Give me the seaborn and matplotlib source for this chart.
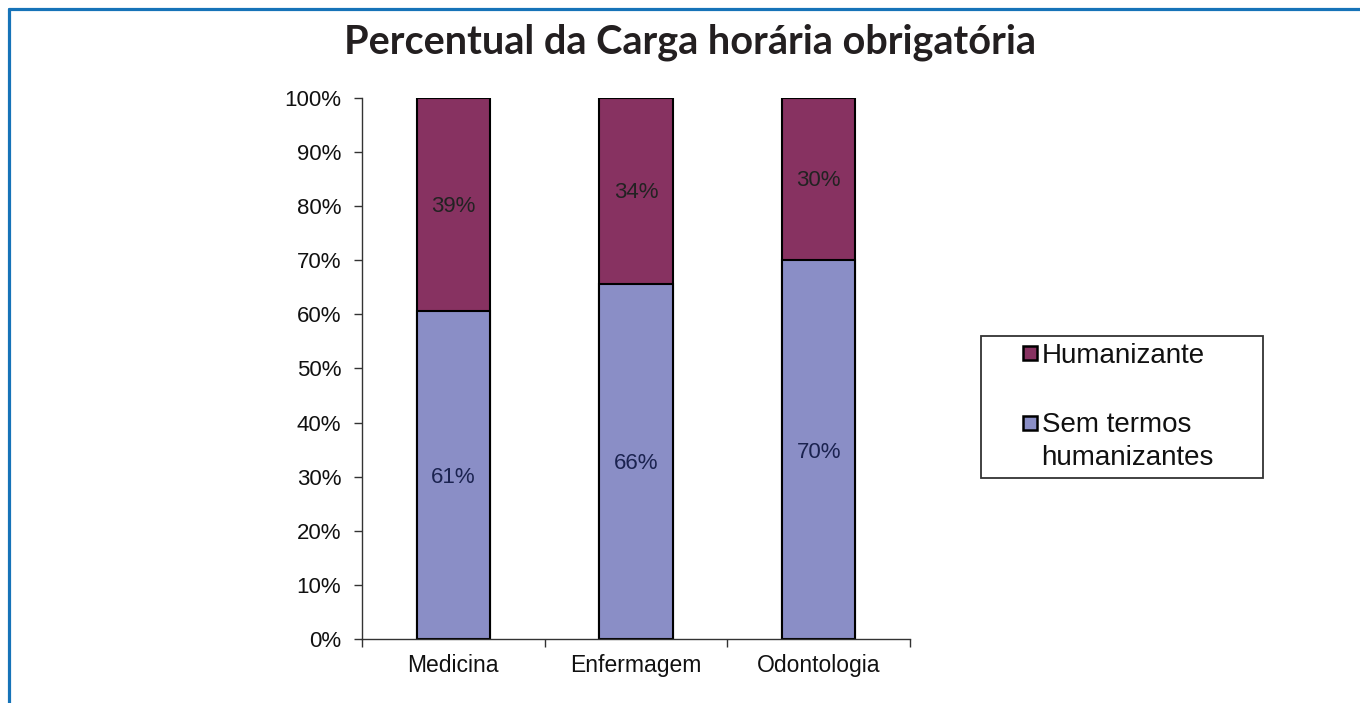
import matplotlib
matplotlib.use("Agg")
import matplotlib.pyplot as plt
from matplotlib.lines import Line2D
from matplotlib.patches import Patch, Rectangle
from matplotlib.legend_handler import HandlerPatch
import seaborn as sns
import pandas as pd

categories = ["Medicina", "Enfermagem", "Odontologia"]
sem_termos = [60.6, 65.7, 70.0]
humanizante = [39.4, 34.3, 30.0]
y_ticks = [0, 10, 20, 30, 40, 50, 60, 70, 80, 90, 100]

sns.set_theme(style="white")
plt.rcParams["font.family"] = ["Liberation Sans", "DejaVu Sans"]

df = pd.DataFrame({"curso": categories, "sem": sem_termos, "hum": humanizante})
df["total"] = df["sem"] + df["hum"]

c_hum = "#873261"
c_sem = "#8A8EC6"

fig = plt.figure(figsize=(13.6, 7.03), dpi=100)
ax = fig.add_axes([362/1360, 1-639/703, (910-362)/1360, (639-98)/703])

sns.barplot(data=df, x="curso", y="total", color=c_hum, width=0.4,
            edgecolor="black", linewidth=1.5, ax=ax, saturation=1)
sns.barplot(data=df, x="curso", y="sem", color=c_sem, width=0.4,
            edgecolor="black", linewidth=1.5, ax=ax, saturation=1)

for i, (s, h) in enumerate(zip(sem_termos, humanizante)):
    ax.text(i, s/2 - 0.5, f"{s:.0f}%", ha="center", va="center", fontsize=16, color="#1b2350")
    ax.text(i, s + h/2 - 0.3, f"{h:.0f}%", ha="center", va="center", fontsize=16, color="#222222")

ax.set_xlim(-0.5, 2.5)
ax.set_ylim(0, 100)
ax.set_yticks(y_ticks)
ax.set_yticklabels([f"{t}%" for t in y_ticks], fontsize=16, color="#111111")
ax.set_xticks(range(len(categories)))
ax.set_xticklabels(categories, fontsize=16.5, color="#111111")
ax.set_xticks([-0.5, 0.5, 1.5, 2.5], minor=True)
ax.tick_params(axis="x", which="major", length=0, pad=11)
ax.tick_params(axis="x", which="minor", length=6, width=1, color="#333333", direction="out", bottom=True)
ax.tick_params(axis="y", length=6, width=1, color="#333333", direction="out", left=True, pad=9)
ax.set_xlabel("")
ax.set_ylabel("")
for side in ["top", "right"]:
    ax.spines[side].set_visible(False)
for side in ["left", "bottom"]:
    ax.spines[side].set_color("#333333")
    ax.spines[side].set_linewidth(1)

SQ = 10.0


def square_patch(legend, orig_handle, xdescent, ydescent, width, height, fontsize):
    dy = 13.5 if "\n" in orig_handle.get_label() else 0.0
    return Rectangle((-xdescent + width - SQ, -ydescent + (height - SQ) / 2 + dy), SQ, SQ)


handles = [Patch(facecolor=c_hum, edgecolor="black", linewidth=1.8, label="Humanizante"),
           Patch(facecolor=c_sem, edgecolor="black", linewidth=1.8, label="Sem termos\nhumanizantes")]
leg = fig.legend(handles=handles, loc="upper left",
                 bbox_to_anchor=(981/1360, 1-477/703, (1263-981)/1360, (477-336)/703),
                 mode="expand", fontsize=20, frameon=True,
                 fancybox=False, edgecolor="black", handlelength=1.75, handleheight=0.5,
                 handletextpad=0.18, labelspacing=1.55, borderpad=0.25, borderaxespad=0,
                 handler_map={Patch: HandlerPatch(patch_func=square_patch)})
leg.get_frame().set_linewidth(1.3)
for t in leg.get_texts():
    t.set_color("#111111")
    t.set_linespacing(1.35)

fig.text(690/1360, 1-42/703, "Percentual da Carga horária obrigatória", ha="center", va="center",
         fontsize=28.5, fontweight="bold", family=["Lato", "DejaVu Sans"], color="#231f20")

# blue frame
fig.add_artist(Line2D([8.5/1360, 1.0], [1-8.5/703, 1-8.5/703], color="#1673b8", linewidth=2.3,
                      transform=fig.transFigure))
fig.add_artist(Line2D([8.5/1360, 8.5/1360], [0, 1-8.5/703], color="#1673b8", linewidth=2.3,
                      transform=fig.transFigure))

fig.savefig("out.png", dpi=100, facecolor="white")
